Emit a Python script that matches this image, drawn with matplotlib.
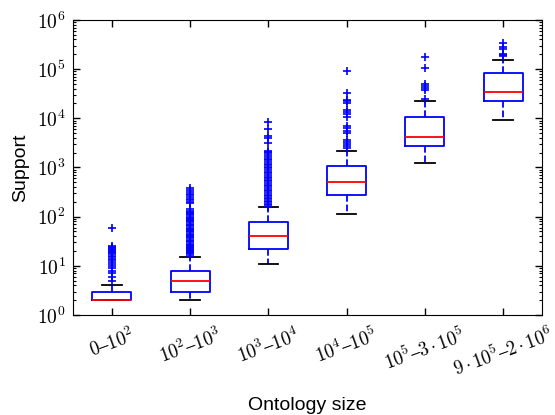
import math

import matplotlib
matplotlib.use("Agg")
import matplotlib.pyplot as plt
from matplotlib.ticker import LogLocator, FuncFormatter, NullFormatter

plt.rcParams["mathtext.fontset"] = "cm"
plt.rcParams["mathtext.default"] = "rm"
plt.rcParams["font.family"] = ["Liberation Sans", "DejaVu Sans"]

# size classes (tick labels)
categories = [
    "$0\u201310^2$",
    "$10^2\u201310^3$",
    "$10^3\u201310^4$",
    "$10^4\u201310^5$",
    "$10^5\u20133\\,{\\cdot}\\,10^5$",
    "$9\\,{\\cdot}\\,10^5\u20132\\,{\\cdot}\\,10^6$",
]

# box statistics
q1 = [2, 3, 22, 280, 2740, 22900]
med = [2, 5, 40, 500, 4170, 34900]
q3 = [3, 8, 76, 1050, 10800, 82200]
whislo = [2, 2, 11, 113, 1220, 9400]
whishi = [4, 15, 155, 2190, 22900, 151000]

fliers_1 = [5, 6, 7, 8, 9, 10, 11, 12, 13, 14, 15, 16, 17, 18, 19, 20,
            21, 22, 23, 24, 25, 58]
fliers_2 = [16, 17, 18, 19, 20, 21, 22, 23, 24, 25, 26, 28, 30, 32, 34,
            36, 38, 40, 42, 45, 48, 51, 54, 57, 60, 64, 68, 72, 76, 80,
            85, 90, 95, 100, 106, 112, 118, 125, 132, 140,
            190, 200, 215, 230, 250, 270, 290, 320, 350, 375]
fliers_3 = [160, 170, 180, 195, 210, 225, 240, 260, 280, 300, 325, 350,
            380, 410, 440, 480, 520, 560, 600, 650, 700, 760, 820, 890,
            960, 1040, 1120, 1200, 1300, 1400, 1500, 1650, 1800, 1950,
            2100, 2200, 3100, 3900, 4400, 6000, 8500]
fliers_4 = [2450, 2700, 3000, 3300, 3630, 4950, 5500, 6200, 6950, 10800,
            12000, 13500, 14800, 20200, 22000, 23500, 32000, 93000]
fliers_5 = [24500, 38000, 41000, 45000, 50000, 107000, 179000]
fliers_6 = [186000, 195000, 205000, 251000, 287000, 335000]
fliers = [fliers_1, fliers_2, fliers_3, fliers_4, fliers_5, fliers_6]

stats = []
for i in range(len(categories)):
    stats.append(dict(q1=q1[i], med=med[i], q3=q3[i], whislo=whislo[i],
                      whishi=whishi[i], fliers=fliers[i]))

fig = plt.figure(figsize=(5.55, 4.15), dpi=100)
fig.subplots_adjust(left=0.131, right=0.977, top=0.952, bottom=0.241)
ax = fig.add_subplot(111)

ax.bxp(stats, widths=0.5,
       boxprops=dict(color="b", linewidth=1.3),
       medianprops=dict(color="r", linewidth=1.3),
       whiskerprops=dict(color="b", linestyle="--", linewidth=1.3),
       capprops=dict(color="k", linewidth=1.3),
       flierprops=dict(marker="+", markeredgecolor="b", markersize=6,
                       markeredgewidth=1.2, linestyle="none"))

ax.set_yscale("log")
ax.set_ylim(1, 1e6)
ax.set_xlim(0.5, 6.5)
ax.yaxis.set_major_locator(LogLocator(base=10, numticks=10))
ax.yaxis.set_minor_locator(LogLocator(base=10, subs=range(2, 10), numticks=20))
ax.yaxis.set_major_formatter(FuncFormatter(lambda v, p: r"$10^{%d}$" % round(math.log10(v))))
ax.yaxis.set_minor_formatter(NullFormatter())

ax.set_xticks(range(1, 7))
ax.set_xticklabels(categories, rotation=20, ha="center", fontsize=13.5)
ax.tick_params(axis="y", labelsize=14, pad=5)
ax.tick_params(axis="x", pad=7)
ax.tick_params(which="both", direction="in", top=True, right=True)
ax.tick_params(which="major", length=5, width=1)
ax.tick_params(which="minor", length=2.5, width=0.8)

ax.set_ylabel("Support", fontsize=14, labelpad=6)
ax.set_xlabel("Ontology size", fontsize=14, labelpad=12)

fig.savefig("out.png", dpi=100)
